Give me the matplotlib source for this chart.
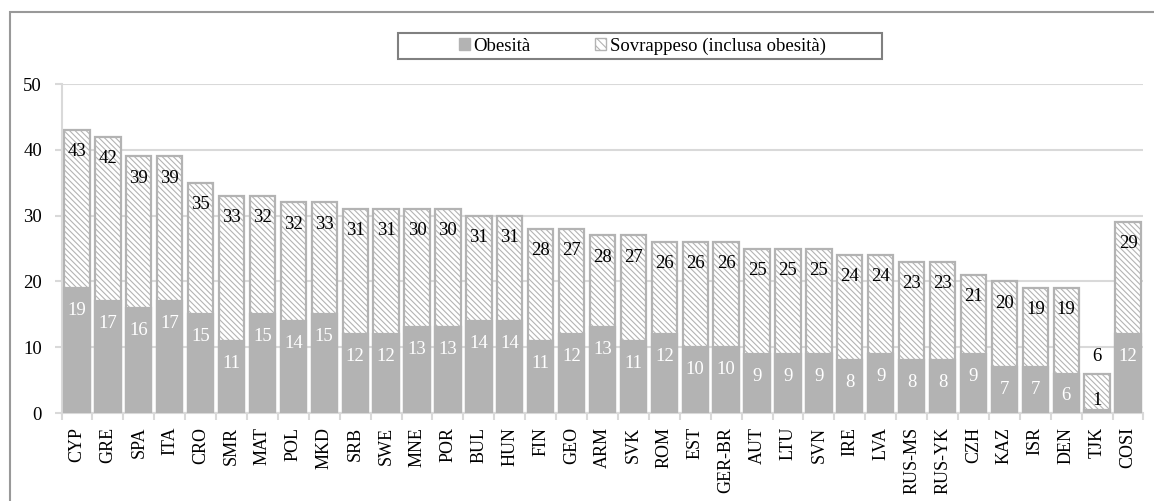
import matplotlib.pyplot as plt
import numpy as np
from matplotlib.patches import Patch, Rectangle

plt.rcParams['font.family'] = ['Liberation Serif', 'DejaVu Serif']
plt.rcParams['hatch.color'] = '#b3b3b3'
plt.rcParams['hatch.linewidth'] = 0.8

paesi = ['CYP', 'GRE', 'SPA', 'ITA', 'CRO', 'SMR', 'MAT', 'POL', 'MKD', 'SRB',
         'SWE', 'MNE', 'POR', 'BUL', 'HUN', 'FIN', 'GEO', 'ARM', 'SVK', 'ROM',
         'EST', 'GER-BR', 'AUT', 'LTU', 'SVN', 'IRE', 'LVA', 'RUS-MS', 'RUS-YK',
         'CZH', 'KAZ', 'ISR', 'DEN', 'TJK', 'COSI']

# bar heights as drawn
sovrappeso = [43, 42, 39, 39, 35, 33, 33, 32, 32, 31, 31, 31, 31, 30, 30, 28, 28,
              27, 27, 26, 26, 26, 25, 25, 25, 24, 24, 23, 23, 21, 20, 19, 19, 6, 29]
obesita = [19, 17, 16, 17, 15, 11, 15, 14, 15, 12, 12, 13, 13, 14, 14, 11, 12,
           13, 11, 12, 10, 10, 9, 9, 9, 8, 9, 8, 8, 9, 7, 7, 6, 0.5, 12]

# data labels as printed
sovr_lab = [43, 42, 39, 39, 35, 33, 32, 32, 33, 31, 31, 30, 30, 31, 31, 28, 27,
            28, 27, 26, 26, 26, 25, 25, 25, 24, 24, 23, 23, 21, 20, 19, 19, 6, 29]
obes_lab = [19, 17, 16, 17, 15, 11, 15, 14, 15, 12, 12, 13, 13, 14, 14, 11, 12,
            13, 11, 12, 10, 10, 9, 9, 9, 8, 9, 8, 8, 9, 7, 7, 6, 1, 12]

grigio = '#b3b3b3'
griglia = '#d9d9d9'
fs = 13.5

fig = plt.figure(figsize=(11.54, 5.01), dpi=100)
ax = fig.add_axes([0.0533, 0.1756, 0.9376, 0.6567])

x = np.arange(len(paesi))
ax.bar(x, sovrappeso, width=0.82, color='white', edgecolor=grigio,
       linewidth=1.6, hatch='\\\\\\\\\\\\', zorder=2)
ax.bar(x, obesita, width=0.82, color=grigio, edgecolor=grigio,
       linewidth=1.6, zorder=3)

for i in range(len(paesi)):
    if sovrappeso[i] < 10:
        ax.text(x[i], sovrappeso[i] + 2.6, str(sovr_lab[i]), ha='center',
                va='center', fontsize=fs, color='black', zorder=5)
    else:
        ax.text(x[i], sovrappeso[i] - 3.3, str(sovr_lab[i]), ha='center',
                va='center', fontsize=fs, color='black', zorder=5)
    if obesita[i] < 3:
        ax.text(x[i], 1.9, str(obes_lab[i]), ha='center', va='center',
                fontsize=fs, color='black', zorder=5)
    else:
        ax.text(x[i], obesita[i] - 3.4, str(obes_lab[i]), ha='center',
                va='center', fontsize=fs, color='white', zorder=5)

ax.set_xlim(-0.5, len(paesi) - 0.5)
ax.set_ylim(0, 50)
ax.set_yticks([0, 10, 20, 30, 40, 50])
ax.set_xticks(x)
ax.set_xticklabels(paesi, rotation=90, fontsize=13)
ax.set_xticks(np.arange(-0.5, len(paesi), 1), minor=True)
ax.tick_params(axis='x', which='major', length=0, pad=10)
ax.tick_params(axis='x', which='minor', length=5, color=griglia, width=1.5)
ax.tick_params(axis='y', length=5, color=griglia, width=1.5, labelsize=fs, pad=9)
ax.yaxis.grid(True, color=griglia, linewidth=1.5, zorder=0)
ax.set_axisbelow(True)
for s in ['top', 'right']:
    ax.spines[s].set_visible(False)
for s in ['left', 'bottom']:
    ax.spines[s].set_color(griglia)
    ax.spines[s].set_linewidth(1.5)

handles = [Patch(facecolor=grigio, edgecolor=grigio),
           Patch(facecolor='white', edgecolor=grigio, hatch='\\\\\\\\')]
leg = fig.legend(handles, ['Obesità', 'Sovrappeso (inclusa obesità)'],
                 loc='center', bbox_to_anchor=(0.5565, 0.908), ncol=2,
                 fontsize=fs, frameon=False,
                 handlelength=0.6, handleheight=0.6, handletextpad=0.2,
                 columnspacing=3.4, borderpad=0.2)

# legend box
fig.patches.append(Rectangle((398 / 1154, 1 - 59 / 501), 484 / 1154, 26 / 501,
                             transform=fig.transFigure, fill=False,
                             edgecolor='#808080', linewidth=1.5))

# outer frame
fig.patches.append(Rectangle((10 / 1154, -0.05), 1.2, 1 - 12 / 501 + 0.05,
                             transform=fig.transFigure, fill=False,
                             edgecolor='#999999', linewidth=1.5))

fig.savefig('out.png', dpi=100)
